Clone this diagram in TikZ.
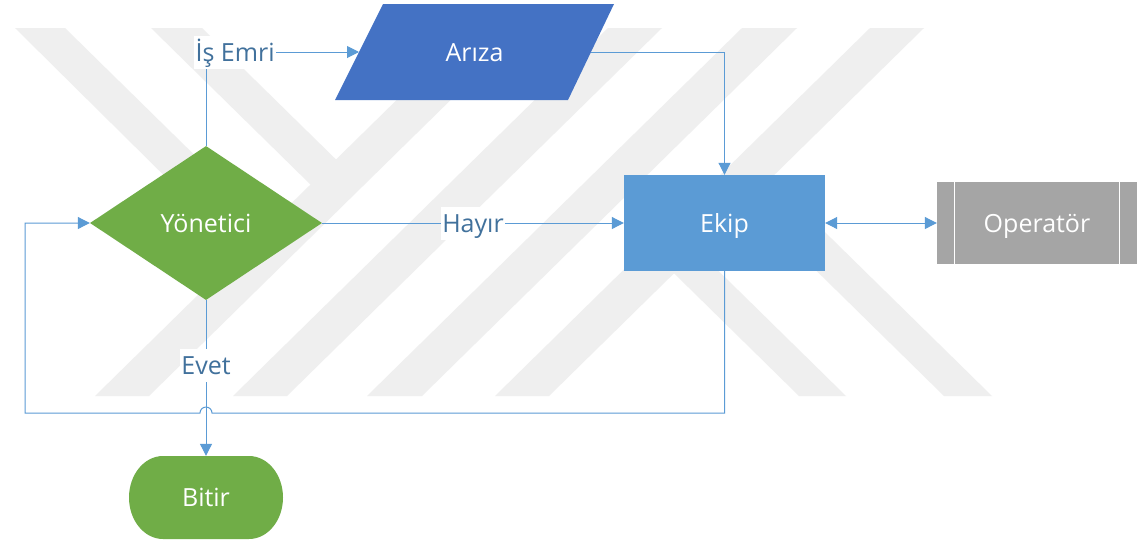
\documentclass[tikz,border=0pt]{standalone}
\usepackage{fontspec}
\setmainfont{Open Sans}
\usetikzlibrary{shapes.geometric,shapes.misc,arrows.meta}
\definecolor{wm}{RGB}{239,239,239}
\definecolor{cblue}{RGB}{68,114,196}
\definecolor{lblue}{RGB}{91,155,213}
\definecolor{cgreen}{RGB}{112,173,71}
\definecolor{cgray}{RGB}{165,165,165}
\definecolor{ltxt}{RGB}{65,113,156}
\begin{document}
\begin{tikzpicture}[x=1pt,y=-1pt,
  shapetxt/.style={text=white,font=\fontsize{25}{30}\selectfont,inner sep=0pt,text height=18pt,text depth=0pt},
  conn/.style={draw=lblue,line width=1pt,-{Triangle[length=12pt,width=12pt]}},
  biconn/.style={draw=lblue,line width=1pt,{Triangle[length=12pt,width=12pt]}-{Triangle[length=12pt,width=12pt]}},
  lbl/.style={fill=white,text=ltxt,font=\fontsize{25}{30}\selectfont,inner xsep=1.5pt,inner ysep=0pt,minimum height=33pt,text height=18pt,text depth=0pt},
  divider/.style={draw=white,line width=1.2pt}]
\useasboundingbox (0,0) rectangle (1143,542);
\fill[white] (0,0) rectangle (1143,542);
% watermark
\fill[wm] (95,396) -- (149,396) -- (524,28) -- (470,28) -- cycle;
\fill[wm] (233,396) -- (287,396) -- (662,28) -- (608,28) -- cycle;
\fill[wm] (367,396) -- (422,396) -- (797,28) -- (742,28) -- cycle;
\fill[wm] (495,396) -- (549,396) -- (924,28) -- (870,28) -- cycle;
\fill[wm] (15,28) -- (65,28) -- (281,240) -- (254,264.5) -- cycle;
\fill[wm] (151,28) -- (202,28) -- (349.5,172.7) -- (324,197.8) -- cycle;
\fill[wm] (660.5,260) -- (684,237) -- (846,396) -- (799,396) -- cycle;
\fill[wm] (733,188.9) -- (757,165.4) -- (992,396) -- (944,396) -- cycle;
% Arıza (parallelogram)
\fill[cblue] (335,100) -- (568,100) -- (614,4) -- (383,4) -- cycle;
\node[shapetxt, minimum width=232pt, minimum height=96pt] (ariza) at (474.5,52) {Arıza};
\coordinate (ariW) at (359,52);
\coordinate (ariE) at (591,52);
% other shapes
\node[shapetxt, diamond, minimum width=232pt, minimum height=154pt, fill=cgreen] (yon) at (206,223) {Yönetici};
\node[shapetxt, rectangle, minimum width=201pt, minimum height=96pt, fill=lblue] (ekip) at (724.5,223) {Ekip};
\node[shapetxt, rectangle, minimum width=200pt, minimum height=82pt, fill=cgray] (op) at (1037,223) {Operatör};
\draw[divider] ([xshift=18pt]op.north west) -- ([xshift=18pt]op.south west);
\draw[divider] ([xshift=-18pt]op.north east) -- ([xshift=-18pt]op.south east);
% Bitir (terminator)
\fill[cgreen] (163,456) -- (249,456) arc[start angle=-90,end angle=90,x radius=34,y radius=41.5]
   -- (163,539) arc[start angle=90,end angle=270,x radius=34,y radius=41.5] -- cycle;
\node[shapetxt, minimum width=154pt, minimum height=83pt] (bitir) at (206,497.5) {Bitir};
% helper coordinates
\coordinate (jump) at (206,413);
\coordinate (lcorner) at (25,413);
% connectors
\draw[conn] (yon.north) |- (ariW) node[lbl,pos=0.595] {İş Emri};
\draw[conn] (ariE) -| (ekip.north);
\draw[conn] (yon.east) -- (ekip.west) node[lbl,midway] {Hayır};
\draw[biconn] (ekip.east) -- (op.west);
\draw[conn] (yon.south) -- (bitir.north) node[lbl,pos=0.42] {Evet};
\draw[conn] (ekip.south) |- ([xshift=6pt]jump) arc[start angle=0,end angle=-180,radius=6] -- (lcorner) |- (yon.west);
\end{tikzpicture}
\end{document}
